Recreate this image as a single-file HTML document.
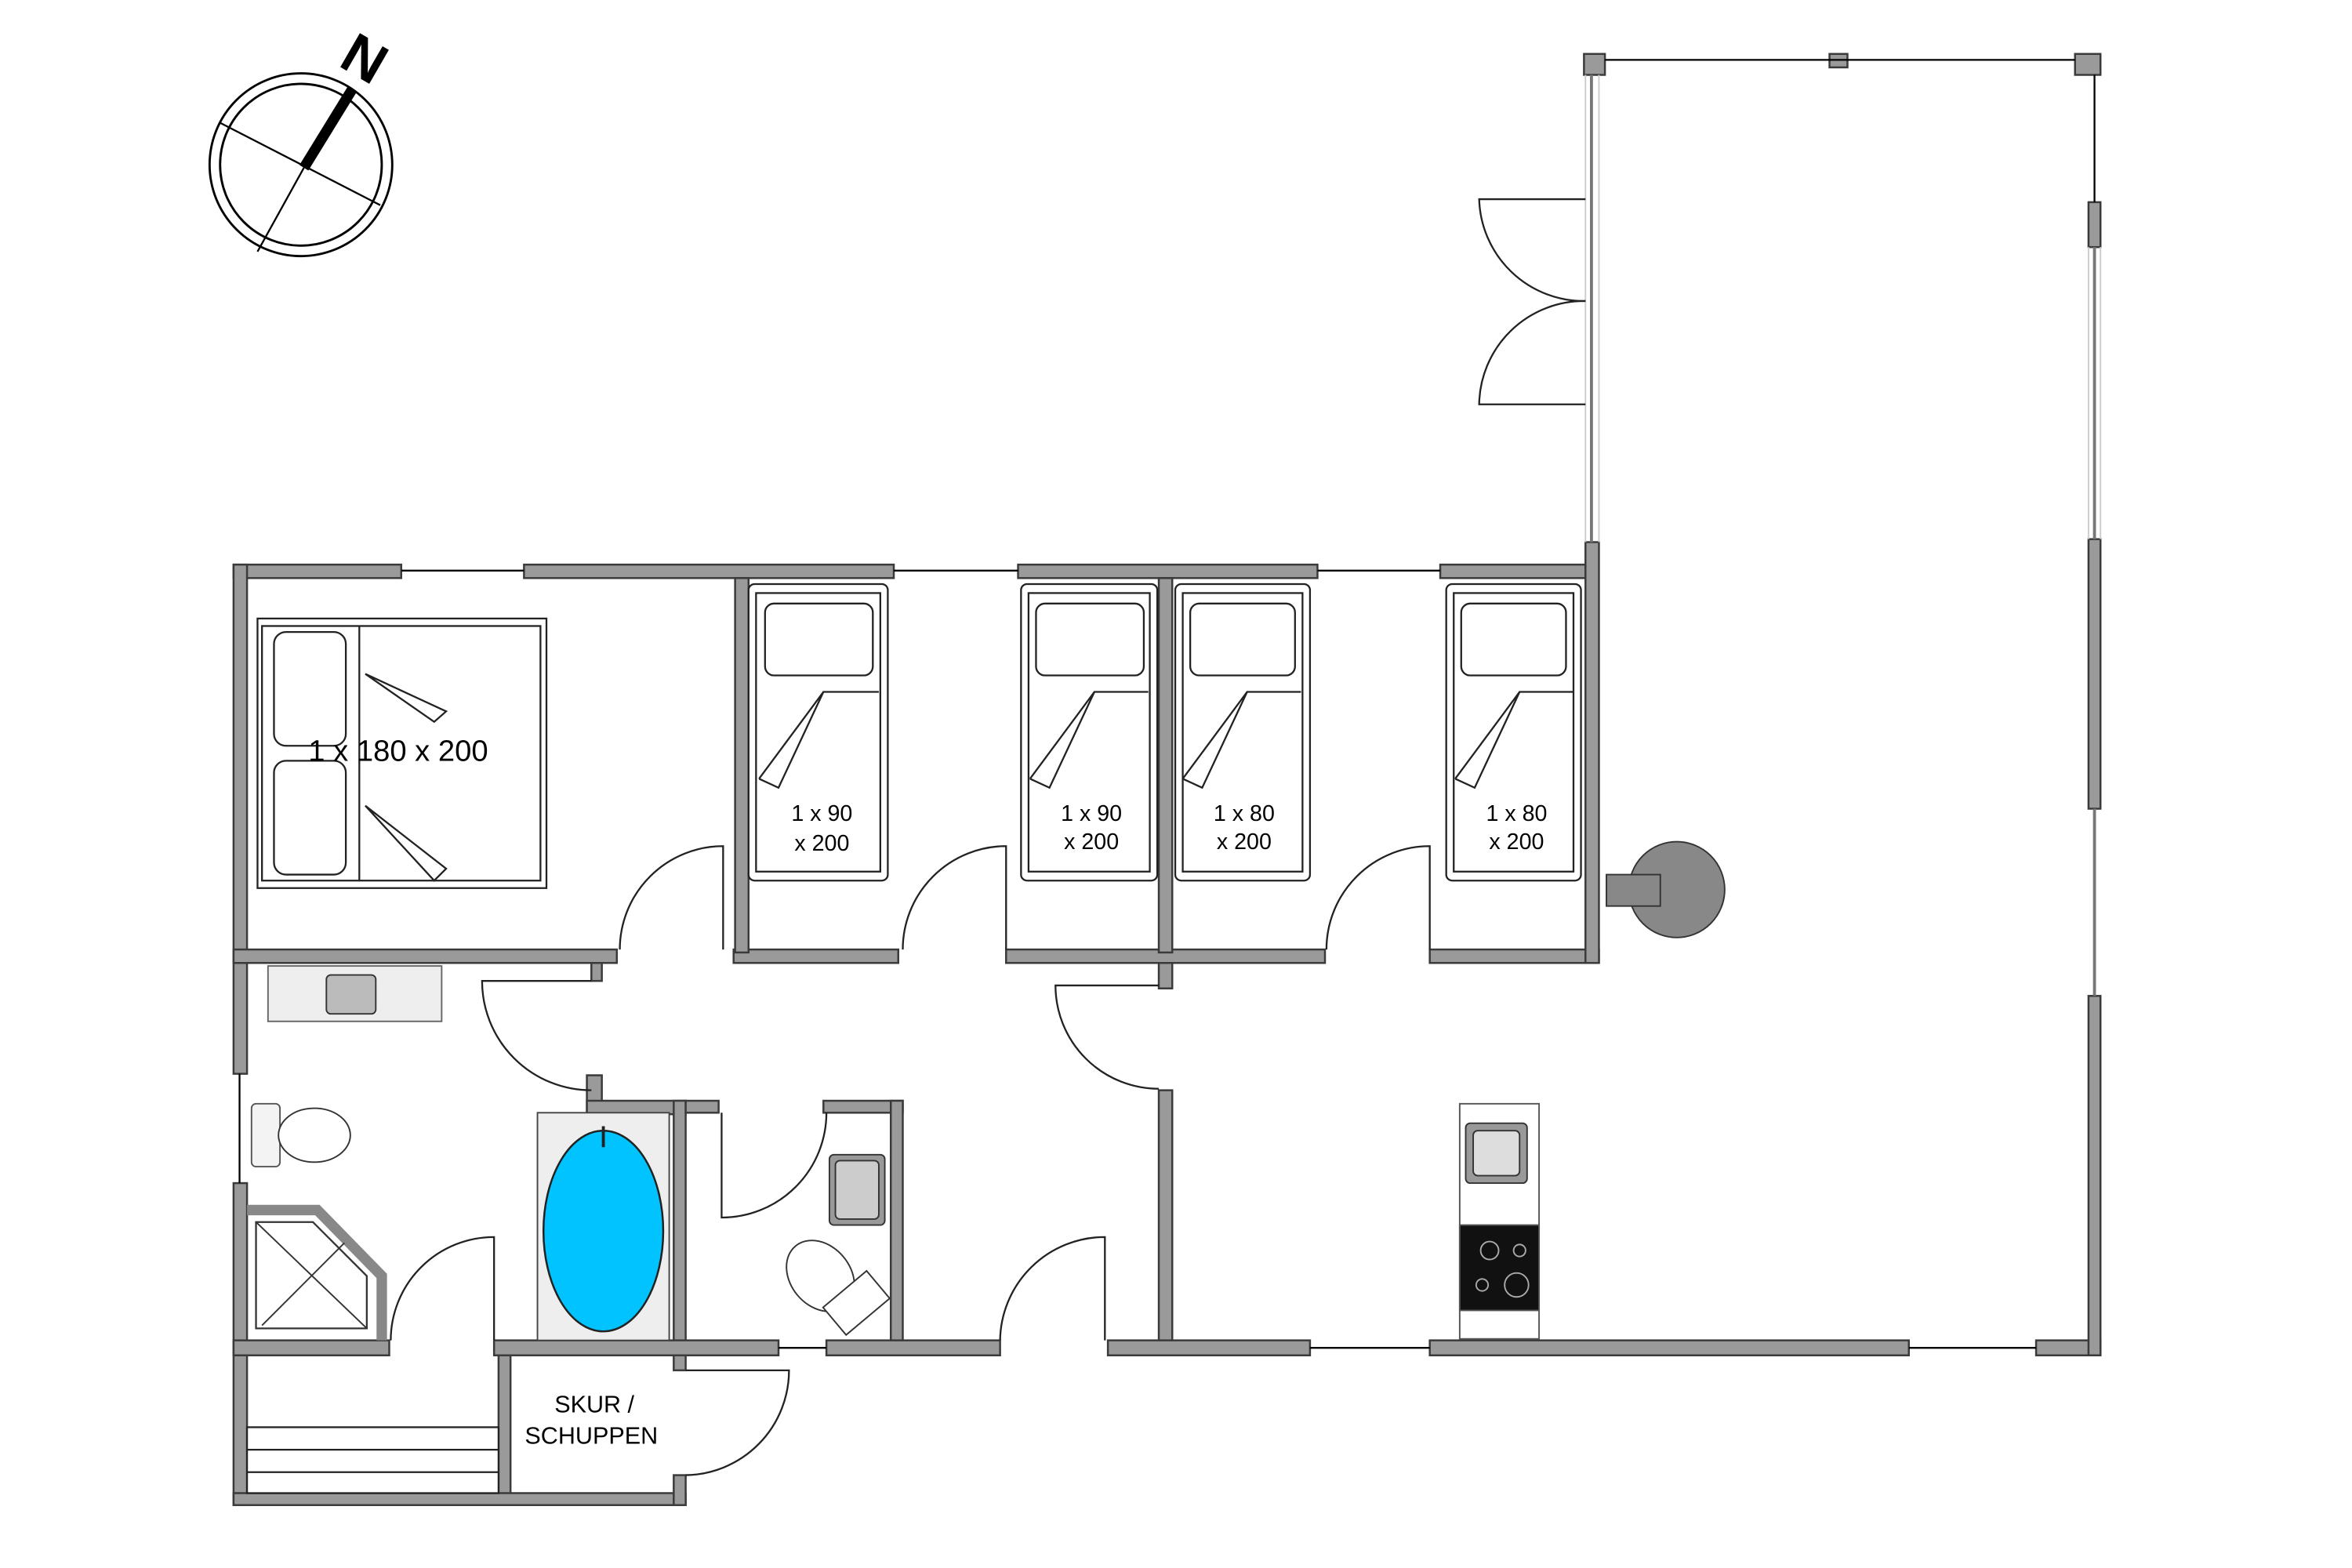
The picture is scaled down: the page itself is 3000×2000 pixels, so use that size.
<!DOCTYPE html>
<html><head><meta charset="utf-8"><style>
html,body{margin:0;padding:0;background:#fff;width:3000px;height:2000px;overflow:hidden}
svg{display:block}
text{font-family:"Liberation Sans",sans-serif}
</style></head><body>
<svg width="3000" height="2000" viewBox="0 0 1571 1047" preserveAspectRatio="none" xmlns="http://www.w3.org/2000/svg">
<rect width="1571" height="1047" fill="#fff"/>
<g fill="none" stroke="#000">
<circle cx="201" cy="110" r="61" stroke-width="1.5"/>
<circle cx="201" cy="110" r="54" stroke-width="1.5"/>
<line x1="147" y1="82" x2="254" y2="137" stroke-width="1.2"/>
<line x1="203" y1="112" x2="172" y2="168" stroke-width="1.2"/>
<line x1="203" y1="112" x2="235" y2="60" stroke-width="7"/>
</g>
<text x="243" y="52" font-size="38" font-weight="bold" transform="rotate(30 243 40)" text-anchor="middle">N</text>

<g fill="#9a9a9a" stroke="#3a3a3a" stroke-width="1.3">
<rect x="156" y="377" width="112" height="9"/>
<rect x="350" y="377" width="247" height="9"/>
<rect x="680" y="377" width="200" height="9"/>
<rect x="962" y="377" width="97" height="9"/>
<rect x="156" y="377" width="9" height="340"/>
<rect x="156" y="790" width="9" height="215"/>
<rect x="156" y="634" width="256" height="9"/>
<rect x="490" y="634" width="110" height="9"/>
<rect x="672" y="634" width="213" height="9"/>
<rect x="955" y="634" width="113" height="9"/>
<rect x="1059" y="362" width="9" height="281"/>
<rect x="491" y="386" width="9" height="250"/>
<rect x="774" y="386" width="9" height="250"/>
<rect x="774" y="643" width="9" height="17"/>
<rect x="774" y="728" width="9" height="168"/>
<rect x="395" y="643" width="7" height="12"/>
<rect x="392" y="718" width="10" height="25"/>
<rect x="392" y="735" width="66" height="9"/>
<rect x="450" y="735" width="8" height="162"/>
<rect x="458" y="735" width="22" height="8"/>
<rect x="550" y="735" width="53" height="8"/>
<rect x="595" y="735" width="8" height="162"/>
<rect x="156" y="895" width="104" height="10"/>
<rect x="330" y="895" width="190" height="10"/>
<rect x="552" y="895" width="116" height="10"/>
<rect x="740" y="895" width="135" height="10"/>
<rect x="955" y="895" width="320" height="10"/>
<rect x="1360" y="895" width="43" height="10"/>
<rect x="333" y="905" width="8" height="95"/>
<rect x="156" y="997" width="302" height="8"/>
<rect x="450" y="905" width="8" height="10"/>
<rect x="450" y="985" width="8" height="20"/>
<rect x="1395" y="665" width="8" height="240"/>
<rect x="1395" y="360" width="8" height="180"/>
<rect x="1395" y="135" width="8" height="30"/>
<rect x="1058" y="36" width="14" height="14"/>
<rect x="1386" y="36" width="17" height="14"/>
<rect x="1222" y="36" width="12" height="9"/>
</g>
<g stroke="#000" stroke-width="1.2">
<line x1="268" y1="381" x2="350" y2="381"/>
<line x1="597" y1="381" x2="680" y2="381"/>
<line x1="880" y1="381" x2="962" y2="381"/>
<line x1="1072" y1="40" x2="1386" y2="40"/>
<line x1="1399" y1="50" x2="1399" y2="135"/>
<line x1="520" y1="900" x2="552" y2="900"/>
<line x1="875" y1="900" x2="955" y2="900"/>
<line x1="1275" y1="900" x2="1360" y2="900"/>
<line x1="160" y1="717" x2="160" y2="790"/>
</g>
<g stroke="#777" stroke-width="2">
<line x1="1063" y1="50" x2="1063" y2="362"/>
<line x1="1399" y1="165" x2="1399" y2="360"/>
<line x1="1399" y1="540" x2="1399" y2="665"/>
</g>
<g stroke="#ccc" stroke-width="1" fill="none">
<line x1="1059" y1="50" x2="1059" y2="362"/><line x1="1068" y1="50" x2="1068" y2="362"/>
<line x1="1395" y1="165" x2="1395" y2="360"/><line x1="1403" y1="165" x2="1403" y2="360"/>
</g>
<g fill="none" stroke="#222" stroke-width="1.2">
<path d="M483,634 L483,565 A69,69 0 0 0 414,634"/>
<path d="M672,634 L672,565 A69,69 0 0 0 603,634"/>
<path d="M955,634 L955,565 A69,69 0 0 0 886,634"/>
<path d="M395,655 L322,655 A73,73 0 0 0 395,728"/>
<path d="M774,658 L705,658 A69,69 0 0 0 774,727"/>
<path d="M482,743 L482,813 A70,70 0 0 0 552,743"/>
<path d="M330,895 L330,826 A69,69 0 0 0 261,895"/>
<path d="M738,895 L738,826 A70,70 0 0 0 668,895"/>
<path d="M458,915 L527,915 A70,70 0 0 1 458,985"/>
<path d="M1059,133 L988,133 A70,70 0 0 0 1059,201"/>
<path d="M1059,270 L988,270 A70,70 0 0 1 1059,201"/>
</g>
<g fill="#fff" stroke="#222" stroke-width="1.2">
<rect x="172" y="413" width="193" height="180"/>
<rect x="175" y="418" width="186" height="170"/>
<rect x="183" y="422" width="48" height="76" rx="8"/>
<rect x="183" y="508" width="48" height="76" rx="8"/>
<line x1="240" y1="418" x2="240" y2="588"/>
<path d="M244,450 L298,475 L290,482 Z"/>
<path d="M244,538 L298,580 L290,588 Z"/>
</g>
<text x="266" y="508" font-size="20" text-anchor="middle">1 x 180 x 200</text>
<g fill="#fff" stroke="#222" stroke-width="1.2">
<rect x="500" y="390" width="93" height="198" rx="4"/><rect x="505" y="396" width="83" height="186"/><rect x="511" y="403" width="72" height="48" rx="6"/><path d="M507,520 L550,462 L587,462 M507,520 L520,526 L550,462"/>
<rect x="682" y="390" width="91" height="198" rx="4"/><rect x="687" y="396" width="81" height="186"/><rect x="692" y="403" width="72" height="48" rx="6"/><path d="M688,520 L731,462 L767,462 M688,520 L701,526 L731,462"/>
<rect x="785" y="390" width="90" height="198" rx="4"/><rect x="790" y="396" width="80" height="186"/><rect x="795" y="403" width="70" height="48" rx="6"/><path d="M790,520 L833,462 L869,462 M790,520 L803,526 L833,462"/>
<rect x="966" y="390" width="90" height="198" rx="4"/><rect x="971" y="396" width="80" height="186"/><rect x="976" y="403" width="70" height="48" rx="6"/><path d="M972,520 L1015,462 L1051,462 M972,520 L985,526 L1015,462"/>
</g>
<g font-size="15" text-anchor="middle">
<text x="549" y="548">1 x 90</text><text x="549" y="568">x 200</text>
<text x="729" y="548">1 x 90</text><text x="729" y="567">x 200</text>
<text x="831" y="548">1 x 80</text><text x="831" y="567">x 200</text>
<text x="1013" y="548">1 x 80</text><text x="1013" y="567">x 200</text>
</g>
<circle cx="1120" cy="594" r="32" fill="#888" stroke="#333"/>
<rect x="1073" y="584" width="36" height="21" fill="#888" stroke="#333"/>
<rect x="179" y="645" width="116" height="37" fill="#eee" stroke="#666"/>
<rect x="218" y="651" width="33" height="26" rx="3" fill="#bbb" stroke="#333"/>
<rect x="168" y="737" width="19" height="42" rx="3" fill="#f3f3f3" stroke="#555"/>
<ellipse cx="210" cy="758" rx="24" ry="18" fill="#fff" stroke="#333"/>
<path d="M171,816 L209,816 L245,852 L245,887 L171,887 Z" fill="#fff" stroke="#333" stroke-width="1.2"/>
<path d="M165,808 L212,808 L255,852 L255,895" fill="none" stroke="#888" stroke-width="7"/>
<line x1="171" y1="816" x2="245" y2="887" stroke="#333"/><line x1="230" y1="830" x2="175" y2="885" stroke="#333"/>
<rect x="359" y="743" width="88" height="152" fill="#eee" stroke="#444"/>
<ellipse cx="403" cy="822" rx="40" ry="67" fill="#00c3ff" stroke="#222" stroke-width="1.3"/>
<line x1="403" y1="752" x2="403" y2="766" stroke="#222" stroke-width="2"/>
<rect x="554" y="771" width="37" height="47" rx="3" fill="#999" stroke="#333"/>
<rect x="558" y="775" width="29" height="39" rx="3" fill="#ccc" stroke="#333"/>
<ellipse cx="548" cy="852" rx="20" ry="26" transform="rotate(-40 548 852)" fill="#fff" stroke="#333"/>
<rect x="553" y="858" width="38" height="24" transform="rotate(-40 572 870)" fill="#fff" stroke="#333"/>
<g fill="#fff" stroke="#222" stroke-width="1.2">
<rect x="165" y="953" width="168" height="44"/>
<line x1="165" y1="968" x2="333" y2="968"/><line x1="165" y1="983" x2="333" y2="983"/>
</g>
<text x="397" y="943" font-size="16" text-anchor="middle">SKUR /</text>
<text x="395" y="964" font-size="16" text-anchor="middle">SCHUPPEN</text>
<rect x="975" y="737" width="53" height="157" fill="#fff" stroke="#555"/>
<rect x="979" y="750" width="41" height="40" rx="3" fill="#999" stroke="#333"/>
<rect x="984" y="755" width="31" height="30" rx="3" fill="#ddd" stroke="#333"/>
<rect x="975" y="818" width="53" height="57" fill="#111" stroke="#555"/>
<g fill="none" stroke="#aaa"><circle cx="995" cy="835" r="6"/><circle cx="1013" cy="858" r="8"/><circle cx="990" cy="858" r="4"/><circle cx="1015" cy="835" r="4"/></g>
</svg>
</body></html>
